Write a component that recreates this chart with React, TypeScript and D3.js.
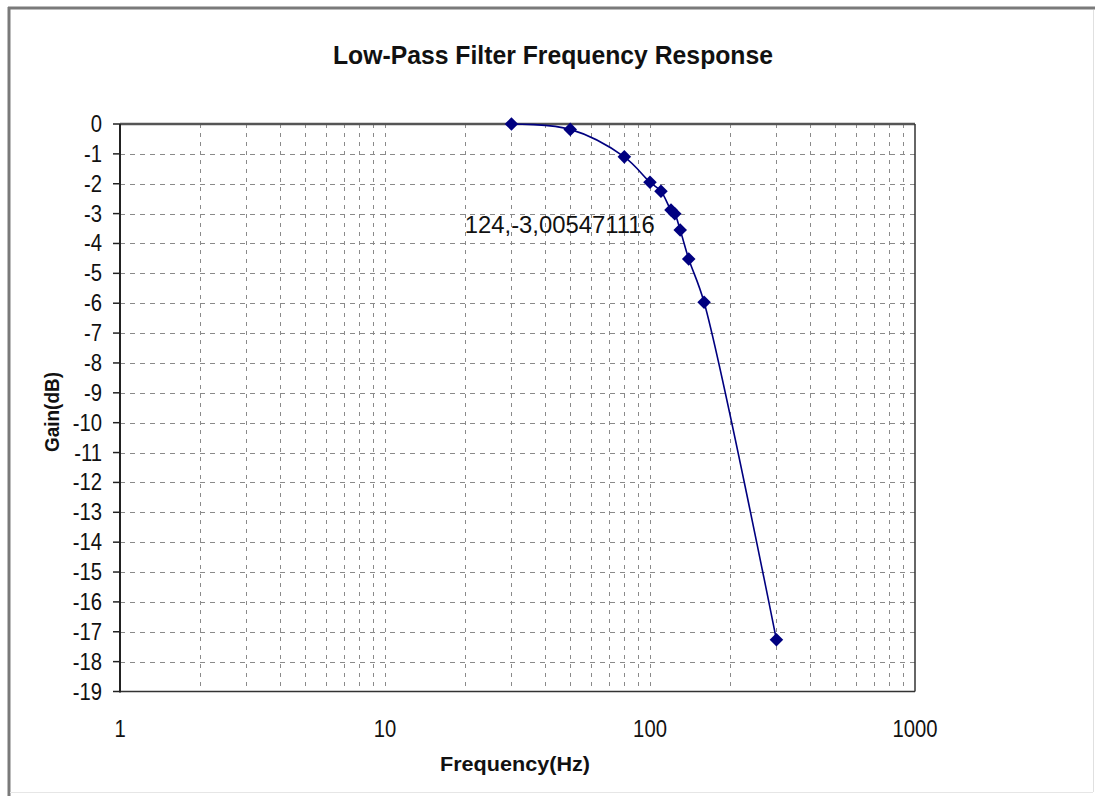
import { useEffect, useRef } from "react"
import * as d3 from "d3"

// measured points (Hz, dB)
const freqs = [30, 50, 80, 100, 110, 120, 124, 130, 140, 160, 300]
const gains = [0, -0.18, -1.1, -1.95, -2.25, -2.88, -3.005471116, -3.55, -4.52, -5.97, -17.27]

const yTicks = d3.range(0, -20, -1)
const xMajor = [1, 10, 100, 1000]
const labelPoint = { f: 124, g: -3.005471116, text: "124,-3,005471116" }

const W = 1095
const H = 796
const FONT = "'Liberation Sans', Arial, sans-serif"

export default function App() {
  const svgRef = useRef<SVGSVGElement>(null)

  useEffect(() => {
    if (!svgRef.current) return
    document.body.style.margin = "0"

    const svg = d3.select(svgRef.current)
    svg.selectAll("*").remove()

    const left = 120
    const right = 915
    const top = 124
    const bottom = 691.5

    const x = d3.scaleLog().domain([1, 1000]).range([left, right])
    const y = d3.scaleLinear().domain([-19, 0]).range([bottom, top])

    // narrow, tall text like the old bitmap chart font
    const label = (px: number, py: number, s: string, size: number, anchor: string, bold = false) =>
      svg.append("text")
        .attr("transform", `translate(${px},${py}) scale(0.88,1)`)
        .attr("text-anchor", anchor)
        .attr("font-family", FONT).attr("font-size", size)
        .attr("font-weight", bold ? "bold" : "normal")
        .attr("fill", "#111")
        .text(s)

    svg.append("rect").attr("width", W).attr("height", H).attr("fill", "#fff")

    // outer chart frame
    svg.append("line").attr("x1", 9).attr("x2", 9).attr("y1", 7).attr("y2", H)
      .attr("stroke", "#7a7a7a").attr("stroke-width", 3)
    svg.append("line").attr("x1", 8).attr("x2", W).attr("y1", 8).attr("y2", 8)
      .attr("stroke", "#7a7a7a").attr("stroke-width", 3)
    svg.append("line").attr("x1", 1093.5).attr("x2", 1093.5).attr("y1", 10).attr("y2", 792)
      .attr("stroke", "#e0e0e0").attr("stroke-width", 1)
    svg.append("line").attr("x1", 10).attr("x2", 1093).attr("y1", 792.5).attr("y2", 792.5)
      .attr("stroke", "#e6e6e6").attr("stroke-width", 1)

    // title
    svg.append("text")
      .attr("x", 553).attr("y", 64)
      .attr("text-anchor", "middle")
      .attr("font-family", FONT).attr("font-weight", "bold").attr("font-size", 25)
      .attr("textLength", 440).attr("lengthAdjust", "spacingAndGlyphs")
      .attr("fill", "#111")
      .text("Low-Pass Filter Frequency Response")

    const grid = svg.append("g").attr("stroke", "#8a8a8a").attr("stroke-width", 1)

    // horizontal grid
    yTicks.filter((t) => t !== 0 && t !== -19).forEach((t) => {
      grid.append("line")
        .attr("x1", left).attr("x2", right)
        .attr("y1", Math.round(y(t)) + 0.5).attr("y2", Math.round(y(t)) + 0.5)
        .attr("stroke-dasharray", "5,5")
    })

    // vertical grid (log minor + majors)
    const vTicks: number[] = []
    for (let d = 1; d < 1000; d *= 10) {
      for (let k = 2; k <= 10; k++) vTicks.push(d * k)
    }
    vTicks.filter((t) => t < 1000).forEach((t) => {
      grid.append("line")
        .attr("y1", top).attr("y2", bottom)
        .attr("x1", Math.round(x(t)) + 0.5).attr("x2", Math.round(x(t)) + 0.5)
        .attr("stroke-dasharray", "4,5")
    })

    // plot border
    svg.append("line").attr("x1", left).attr("x2", right).attr("y1", top).attr("y2", top)
      .attr("stroke", "#555").attr("stroke-width", 2.5)
    svg.append("line").attr("x1", left).attr("x2", right).attr("y1", bottom).attr("y2", bottom)
      .attr("stroke", "#333").attr("stroke-width", 1.5)
    svg.append("line").attr("x1", right).attr("x2", right).attr("y1", top).attr("y2", bottom)
      .attr("stroke", "#333").attr("stroke-width", 1.5)
    svg.append("line").attr("x1", left).attr("x2", left).attr("y1", top).attr("y2", bottom + 1)
      .attr("stroke", "#222").attr("stroke-width", 2)

    // y axis ticks + labels
    yTicks.forEach((t) => {
      svg.append("line")
        .attr("x1", left - 7).attr("x2", left)
        .attr("y1", y(t)).attr("y2", y(t))
        .attr("stroke", "#222").attr("stroke-width", 1.5)
      label(102, y(t) + 8, String(t), 23, "end")
    })

    // x labels
    xMajor.forEach((t) => label(x(t), 737, String(t), 23, "middle"))

    // axis titles
    svg.append("text")
      .attr("x", 515).attr("y", 771)
      .attr("text-anchor", "middle")
      .attr("font-family", FONT).attr("font-weight", "bold").attr("font-size", 21)
      .attr("textLength", 150).attr("lengthAdjust", "spacingAndGlyphs")
      .attr("fill", "#111")
      .text("Frequency(Hz)")

    svg.append("text")
      .attr("transform", `translate(59,412) rotate(-90)`)
      .attr("text-anchor", "middle")
      .attr("font-family", FONT).attr("font-weight", "bold").attr("font-size", 20)
      .attr("textLength", 80).attr("lengthAdjust", "spacingAndGlyphs")
      .attr("fill", "#111")
      .text("Gain(dB)")

    // series
    const pts = freqs.map((f, i) => [f, gains[i]] as [number, number])
    const line = d3.line<[number, number]>()
      .x((d) => x(d[0]))
      .y((d) => y(d[1]))
      .curve(d3.curveCatmullRom.alpha(0.5))

    svg.append("path")
      .datum(pts)
      .attr("d", line)
      .attr("fill", "none")
      .attr("stroke", "#000080")
      .attr("stroke-width", 1.6)

    const diamond = d3.symbol().type(d3.symbolSquare).size(92)
    svg.append("g").selectAll("path")
      .data(pts)
      .join("path")
      .attr("d", diamond)
      .attr("transform", (d) => `translate(${x(d[0])},${y(d[1])}) rotate(45)`)
      .attr("fill", "#000080")

    // data label
    svg.append("text")
      .attr("x", x(labelPoint.f) - 20)
      .attr("y", y(labelPoint.g) + 19)
      .attr("text-anchor", "end")
      .attr("font-family", FONT).attr("font-size", 23)
      .attr("textLength", 190).attr("lengthAdjust", "spacingAndGlyphs")
      .attr("fill", "#111")
      .text(labelPoint.text)
  }, [])

  return (
    <svg
      ref={svgRef}
      width={W}
      height={H}
      style={{ display: "block", position: "absolute", left: 0, top: 0 }}
    />
  )
}
